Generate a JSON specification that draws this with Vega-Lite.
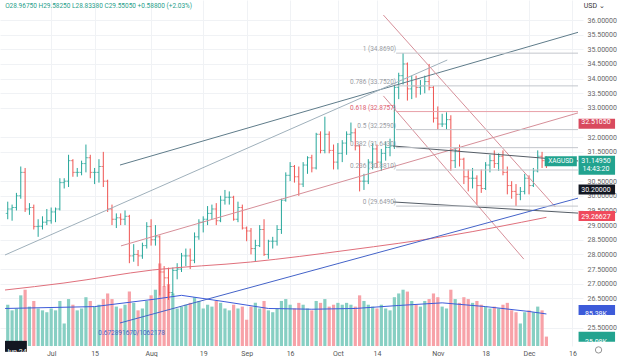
{
"$schema":"https://vega.github.io/schema/vega-lite/v6.json",
"width":583,"height":346,
"autosize":{"type":"none"},
"padding":{"left":0,"top":0,"right":37,"bottom":11},
"background":"#ffffff",
"config":{"view":{"stroke":null},"font":"Roboto","text":{"font":"Roboto"}},
"datasets":{
"bars":[
{"i":-10,"o":29.40,"h":29.80,"l":29.20,"c":29.55,"v":110},
{"i":-9,"o":29.55,"h":29.70,"l":29.15,"c":29.60,"v":95},
{"i":-8,"o":29.60,"h":30.10,"l":29.50,"c":30.00,"v":100},
{"i":-7,"o":30.00,"h":31.00,"l":29.90,"c":30.80,"v":135},
{"i":-6,"o":30.80,"h":30.95,"l":29.45,"c":29.55,"v":150},
{"i":-5,"o":29.55,"h":29.75,"l":29.35,"c":29.60,"v":105},
{"i":-4,"o":29.60,"h":29.70,"l":28.85,"c":28.95,"v":120},
{"i":-3,"o":28.95,"h":29.20,"l":28.60,"c":28.96,"v":100},
{"i":-2,"o":28.96,"h":29.30,"l":28.85,"c":29.10,"v":95},
{"i":-1,"o":29.10,"h":29.55,"l":29.00,"c":29.15,"v":90},
{"i":0,"o":29.15,"h":29.60,"l":29.05,"c":29.45,"v":100},
{"i":1,"o":29.45,"h":29.60,"l":29.10,"c":29.55,"v":95},
{"i":2,"o":29.55,"h":30.60,"l":29.50,"c":30.45,"v":120},
{"i":3,"o":30.45,"h":30.60,"l":30.25,"c":30.50,"v":60},
{"i":4,"o":30.50,"h":31.40,"l":30.30,"c":31.20,"v":125},
{"i":5,"o":31.20,"h":31.25,"l":30.65,"c":30.80,"v":110},
{"i":6,"o":30.80,"h":30.95,"l":30.65,"c":30.80,"v":95},
{"i":7,"o":30.80,"h":31.20,"l":30.70,"c":31.10,"v":100},
{"i":8,"o":31.10,"h":31.75,"l":30.80,"c":31.30,"v":130},
{"i":9,"o":31.30,"h":31.40,"l":30.60,"c":30.80,"v":120},
{"i":10,"o":30.80,"h":30.95,"l":30.40,"c":30.80,"v":105},
{"i":11,"o":30.80,"h":31.25,"l":30.45,"c":31.00,"v":110},
{"i":12,"o":31.00,"h":31.50,"l":30.30,"c":30.50,"v":125},
{"i":13,"o":30.50,"h":30.55,"l":29.45,"c":29.55,"v":140},
{"i":14,"o":29.55,"h":29.70,"l":29.00,"c":29.20,"v":125},
{"i":15,"o":29.20,"h":29.40,"l":28.90,"c":29.25,"v":105},
{"i":16,"o":29.25,"h":29.40,"l":29.00,"c":29.20,"v":100},
{"i":17,"o":29.20,"h":29.50,"l":29.00,"c":29.30,"v":110},
{"i":18,"o":29.30,"h":29.35,"l":27.70,"c":27.95,"v":145},
{"i":19,"o":27.95,"h":28.35,"l":27.75,"c":28.00,"v":115},
{"i":20,"o":28.00,"h":28.15,"l":27.60,"c":27.95,"v":95},
{"i":21,"o":27.95,"h":28.40,"l":27.85,"c":28.30,"v":100},
{"i":22,"o":28.30,"h":29.10,"l":28.20,"c":28.95,"v":120},
{"i":23,"o":28.95,"h":29.20,"l":28.30,"c":28.50,"v":135},
{"i":24,"o":28.50,"h":29.00,"l":28.30,"c":28.60,"v":150},
{"i":25,"o":28.60,"h":28.65,"l":26.60,"c":27.40,"v":220},
{"i":26,"o":27.40,"h":27.60,"l":26.90,"c":27.20,"v":160},
{"i":27,"o":27.20,"h":27.55,"l":26.45,"c":26.70,"v":165},
{"i":28,"o":26.70,"h":27.55,"l":26.60,"c":27.45,"v":140},
{"i":29,"o":27.45,"h":27.70,"l":27.15,"c":27.50,"v":100},
{"i":30,"o":27.50,"h":28.05,"l":27.40,"c":27.95,"v":105},
{"i":31,"o":27.95,"h":28.20,"l":27.60,"c":27.95,"v":110},
{"i":32,"o":27.95,"h":28.20,"l":27.50,"c":27.80,"v":115},
{"i":33,"o":27.80,"h":28.75,"l":27.70,"c":28.60,"v":130},
{"i":34,"o":28.60,"h":29.20,"l":28.50,"c":29.10,"v":120},
{"i":35,"o":29.10,"h":29.30,"l":28.75,"c":29.20,"v":100},
{"i":36,"o":29.20,"h":29.65,"l":29.00,"c":29.40,"v":110},
{"i":37,"o":29.40,"h":29.70,"l":29.20,"c":29.55,"v":105},
{"i":38,"o":29.55,"h":29.75,"l":29.00,"c":29.15,"v":120},
{"i":39,"o":29.15,"h":30.00,"l":29.10,"c":29.85,"v":115},
{"i":40,"o":29.85,"h":30.20,"l":29.70,"c":29.95,"v":100},
{"i":41,"o":29.95,"h":30.15,"l":29.70,"c":29.95,"v":95},
{"i":42,"o":29.95,"h":30.00,"l":29.15,"c":29.20,"v":110},
{"i":43,"o":29.20,"h":29.80,"l":29.10,"c":29.60,"v":100},
{"i":44,"o":29.60,"h":29.70,"l":28.85,"c":28.90,"v":105},
{"i":45,"o":28.90,"h":28.95,"l":28.45,"c":28.80,"v":70},
{"i":46,"o":28.80,"h":28.90,"l":28.00,"c":28.20,"v":105},
{"i":47,"o":28.20,"h":28.50,"l":27.75,"c":28.30,"v":115},
{"i":48,"o":28.30,"h":29.00,"l":28.25,"c":28.85,"v":100},
{"i":49,"o":28.85,"h":29.20,"l":27.95,"c":28.00,"v":120},
{"i":50,"o":28.00,"h":28.50,"l":27.85,"c":28.45,"v":95},
{"i":51,"o":28.45,"h":28.60,"l":28.20,"c":28.45,"v":90},
{"i":52,"o":28.45,"h":29.00,"l":28.30,"c":28.85,"v":100},
{"i":53,"o":28.85,"h":29.90,"l":28.70,"c":29.85,"v":120},
{"i":54,"o":29.85,"h":30.80,"l":29.80,"c":30.70,"v":125},
{"i":55,"o":30.70,"h":31.15,"l":30.50,"c":31.00,"v":110},
{"i":56,"o":31.00,"h":31.05,"l":30.45,"c":30.65,"v":100},
{"i":57,"o":30.65,"h":31.00,"l":30.00,"c":30.40,"v":115},
{"i":58,"o":30.40,"h":31.15,"l":30.30,"c":31.05,"v":110},
{"i":59,"o":31.05,"h":31.35,"l":30.75,"c":31.30,"v":100},
{"i":60,"o":31.30,"h":31.40,"l":30.80,"c":30.95,"v":95},
{"i":61,"o":30.95,"h":32.15,"l":30.90,"c":32.10,"v":120},
{"i":62,"o":32.10,"h":32.20,"l":31.45,"c":31.55,"v":115},
{"i":63,"o":31.55,"h":32.70,"l":31.45,"c":32.10,"v":125},
{"i":64,"o":32.10,"h":32.20,"l":31.45,"c":31.55,"v":105},
{"i":65,"o":31.55,"h":31.75,"l":30.90,"c":31.15,"v":110},
{"i":66,"o":31.15,"h":31.80,"l":30.90,"c":31.45,"v":115},
{"i":67,"o":31.45,"h":31.90,"l":31.15,"c":31.80,"v":110},
{"i":68,"o":31.80,"h":32.20,"l":31.40,"c":32.10,"v":115},
{"i":69,"o":32.10,"h":32.50,"l":31.85,"c":32.15,"v":110},
{"i":70,"o":32.15,"h":32.30,"l":31.55,"c":31.70,"v":105},
{"i":71,"o":31.70,"h":31.75,"l":30.15,"c":30.50,"v":135},
{"i":72,"o":30.50,"h":30.75,"l":30.20,"c":30.50,"v":120},
{"i":73,"o":30.50,"h":31.25,"l":30.40,"c":31.15,"v":110},
{"i":74,"o":31.15,"h":31.80,"l":30.90,"c":31.60,"v":105},
{"i":75,"o":31.60,"h":31.75,"l":30.95,"c":31.15,"v":100},
{"i":76,"o":31.15,"h":31.60,"l":30.85,"c":31.45,"v":110},
{"i":77,"o":31.45,"h":31.85,"l":31.20,"c":31.65,"v":100},
{"i":78,"o":31.65,"h":31.95,"l":31.35,"c":31.70,"v":95},
{"i":79,"o":31.70,"h":33.75,"l":31.60,"c":33.70,"v":130},
{"i":80,"o":33.70,"h":34.20,"l":33.30,"c":34.10,"v":140},
{"i":81,"o":34.10,"h":34.87,"l":33.80,"c":34.50,"v":150},
{"i":82,"o":34.50,"h":34.55,"l":33.25,"c":33.65,"v":145},
{"i":83,"o":33.65,"h":34.10,"l":33.30,"c":33.75,"v":120},
{"i":84,"o":33.75,"h":34.10,"l":33.35,"c":33.70,"v":110},
{"i":85,"o":33.70,"h":33.95,"l":33.45,"c":33.75,"v":105},
{"i":86,"o":33.75,"h":34.10,"l":33.50,"c":33.90,"v":120},
{"i":87,"o":33.90,"h":34.50,"l":33.60,"c":33.70,"v":125},
{"i":88,"o":33.70,"h":33.75,"l":32.50,"c":32.65,"v":140},
{"i":89,"o":32.65,"h":33.05,"l":32.25,"c":32.45,"v":130},
{"i":90,"o":32.45,"h":32.80,"l":32.35,"c":32.45,"v":105},
{"i":91,"o":32.45,"h":32.85,"l":32.25,"c":32.60,"v":100},
{"i":92,"o":32.60,"h":32.75,"l":30.85,"c":31.20,"v":150},
{"i":93,"o":31.20,"h":31.65,"l":30.95,"c":31.55,"v":125},
{"i":94,"o":31.55,"h":31.75,"l":31.00,"c":31.25,"v":115},
{"i":95,"o":31.25,"h":31.30,"l":30.40,"c":30.65,"v":130},
{"i":96,"o":30.65,"h":30.90,"l":30.15,"c":30.60,"v":125},
{"i":97,"o":30.60,"h":30.95,"l":30.25,"c":30.60,"v":115},
{"i":98,"o":30.60,"h":30.70,"l":29.70,"c":30.35,"v":120},
{"i":99,"o":30.35,"h":30.90,"l":30.10,"c":30.25,"v":110},
{"i":100,"o":30.25,"h":31.15,"l":30.20,"c":31.05,"v":105},
{"i":101,"o":31.05,"h":31.40,"l":30.80,"c":31.20,"v":100},
{"i":102,"o":31.20,"h":31.55,"l":30.95,"c":31.10,"v":105},
{"i":103,"o":31.10,"h":31.45,"l":30.85,"c":31.35,"v":100},
{"i":104,"o":31.35,"h":31.55,"l":30.70,"c":30.80,"v":110},
{"i":105,"o":30.80,"h":31.00,"l":30.05,"c":30.35,"v":115},
{"i":106,"o":30.35,"h":30.50,"l":29.90,"c":30.15,"v":95},
{"i":107,"o":30.15,"h":30.40,"l":29.65,"c":30.05,"v":90},
{"i":108,"o":30.05,"h":30.30,"l":29.85,"c":30.15,"v":60},
{"i":109,"o":30.15,"h":30.75,"l":30.05,"c":30.60,"v":90},
{"i":110,"o":30.60,"h":30.70,"l":30.05,"c":30.35,"v":95},
{"i":111,"o":30.35,"h":30.95,"l":30.30,"c":30.85,"v":90},
{"i":112,"o":30.85,"h":31.55,"l":30.80,"c":31.35,"v":105},
{"i":113,"o":31.35,"h":31.50,"l":30.95,"c":31.20,"v":95},
{"i":114,"o":31.20,"h":31.35,"l":30.95,"c":31.1495,"v":25.08}
],
"volma":[
{"i":-10.6,"v":100},{"i":10,"v":105},{"i":24,"v":125},{"i":30,"v":135},{"i":40,"v":118},{"i":50,"v":100},{"i":60,"v":98},{"i":70,"v":100},{"i":80,"v":108},{"i":90,"v":115},{"i":100,"v":105},{"i":110,"v":92},{"i":114,"v":85.38}
],
"pricema":[
{"i":-10.63,"p":26.785},{"i":2.94,"p":27.024},{"i":23.3,"p":27.467},{"i":45.9,"p":27.74},{"i":68.55,"p":28.15},{"i":91.2,"p":28.63},{"i":114,"p":29.266}
],
"trend":[
{"id":"A","i":15.84,"p":31.05},{"id":"A","i":121.27,"p":35.58},
{"id":"B","i":-10.63,"p":27.98},{"id":"B","i":91.18,"p":34.635},
{"id":"C","i":16.06,"p":28.29},{"id":"C","i":121.27,"p":32.83},
{"id":"D1","i":76.47,"p":36.17},{"id":"D1","i":116.06,"p":29.62},
{"id":"D2","i":76.47,"p":33.41},{"id":"D2","i":108.8,"p":27.84},
{"id":"E","i":78.7,"p":31.70},{"id":"E","i":121.27,"p":31.19},
{"id":"F","i":78.7,"p":29.79},{"id":"F","i":121.27,"p":29.41},
{"id":"G","i":15.84,"p":25.66},{"id":"G","i":121.27,"p":29.92}
],
"fib":[
{"lv":"1","p":34.869,"t":"1 (34.8690)"},
{"lv":"0.786","p":33.752,"t":"0.786 (33.7520)"},
{"lv":"0.618","p":32.875,"t":"0.618 (32.8757)"},
{"lv":"0.5","p":32.259,"t":"0.5 (32.2590)"},
{"lv":"0.382","p":31.643,"t":"0.382 (31.6430)"},
{"lv":"0.236","p":30.881,"t":"0.236 (30.8810)"},
{"lv":"0","p":29.649,"t":"0 (29.6490)"}
],
"plabels":[
{"p":32.5105,"t":"32.51050","k":"red"},
{"p":30.2,"t":"30.20000","k":"black"},
{"p":29.26627,"t":"29.26627","k":"ma"}
]
},
"layer":[
 {"data":{"name":"bars"},
  "mark":{"type":"bar","width":3.2},
  "encoding":{
   "x":{"field":"i","type":"quantitative","scale":{"domain":[-10.63,121.27],"nice":false,"zero":false},
        "axis":{"title":null,"orient":"bottom","values":[0,10,23,35,45,55,66,75,89,100,110,120],
        "labelExpr":"datum.value==0?'Jul':datum.value==10?'15':datum.value==23?'Aug':datum.value==35?'19':datum.value==45?'Sep':datum.value==55?'16':datum.value==66?'Oct':datum.value==75?'14':datum.value==89?'Nov':datum.value==100?'18':datum.value==110?'Dec':datum.value==120?'16':''",
        "labelFontSize":7,"labelColor":"#555","ticks":false,"domain":false,"grid":true,"gridColor":"#f0f2f5","labelPadding":3,"labelFlush":false}},
   "y":{"field":"v","type":"quantitative","scale":{"domain":[0,922],"nice":false,"zero":true},"axis":null},
   "color":{"condition":{"test":"datum.c>=datum.o","value":"#87cfc3"},"value":"#f7a2a8"}
  }},
 {"data":{"name":"volma"},
  "mark":{"type":"line","color":"#3d5bd9","strokeWidth":1},
  "encoding":{"x":{"field":"i","type":"quantitative"},"y":{"field":"v","type":"quantitative","scale":{"domain":[0,922],"nice":false,"zero":true},"axis":null}}},
 {"data":{"values":[{"v":85.38,"t":"85.38K"}]},
  "mark":{"type":"bar","color":"#3d5bd9","size":10,"clip":false},
  "encoding":{"x":{"datum":121.4},"x2":{"datum":129.8},"y":{"field":"v","type":"quantitative","scale":{"domain":[0,922],"nice":false,"zero":true},"axis":null}}},
 {"data":{"values":[{"v":85.38,"t":"85.38K"}]},
  "mark":{"type":"text","color":"#ffffff","fontSize":7,"clip":false},
  "encoding":{"x":{"datum":125.4},"y":{"field":"v","type":"quantitative","scale":{"domain":[0,922],"nice":false,"zero":true},"axis":null},"text":{"field":"t"}}},
 {"data":{"values":[{"v":25.08,"t":"25.08K"}]},
  "mark":{"type":"bar","color":"#22a38f","size":10,"clip":false,"yOffset":5},
  "encoding":{"x":{"datum":121.4},"x2":{"datum":129.8},"y":{"field":"v","type":"quantitative","scale":{"domain":[0,922],"nice":false,"zero":true},"axis":null}}},
 {"data":{"values":[{"v":25.08,"t":"25.08K"}]},
  "mark":{"type":"text","color":"#ffffff","fontSize":7,"clip":false,"yOffset":5},
  "encoding":{"x":{"datum":125.4},"y":{"field":"v","type":"quantitative","scale":{"domain":[0,922],"nice":false,"zero":true},"axis":null},"text":{"field":"t"}}},
 {"data":{"name":"bars"},
  "mark":{"type":"rule","strokeWidth":1},
  "encoding":{
   "x":{"field":"i","type":"quantitative"},
   "y":{"field":"l","type":"quantitative","scale":{"domain":[24.874,36.683],"nice":false,"zero":false},
        "axis":{"title":null,"orient":"right","values":[25.5,26.5,27,27.5,28,28.5,29,29.5,30,30.5,31.5,32,33,33.5,34,34.5,35,35.5,36],"format":".5f","labelFontSize":7,"labelColor":"#666","ticks":false,"domain":false,"grid":true,"gridColor":"#f0f2f5","labelPadding":4,"labelOverlap":false}},
   "y2":{"field":"h"},
   "color":{"condition":{"test":"datum.c>=datum.o","value":"#26a69a"},"value":"#ef5350"}
  }},
 {"data":{"name":"bars"},
  "mark":{"type":"tick","orient":"horizontal","size":2,"thickness":1,"xOffset":-1},
  "encoding":{"x":{"field":"i","type":"quantitative"},"y":{"field":"o","type":"quantitative","scale":{"domain":[24.874,36.683],"nice":false,"zero":false},"axis":null},
   "color":{"condition":{"test":"datum.c>=datum.o","value":"#26a69a"},"value":"#ef5350"}}},
 {"data":{"name":"bars"},
  "mark":{"type":"tick","orient":"horizontal","size":2,"thickness":1,"xOffset":1},
  "encoding":{"x":{"field":"i","type":"quantitative"},"y":{"field":"c","type":"quantitative","scale":{"domain":[24.874,36.683],"nice":false,"zero":false},"axis":null},
   "color":{"condition":{"test":"datum.c>=datum.o","value":"#26a69a"},"value":"#ef5350"}}},
 {"mark":{"type":"rule","color":"#c8ccd2","strokeWidth":1},"encoding":{"y":{"datum":31.1495,"type":"quantitative","scale":{"domain":[24.874,36.683],"nice":false,"zero":false},"axis":null}}},
 {"mark":{"type":"rule","color":"#a8455a","strokeWidth":2},"encoding":{"y":{"datum":32.5105,"type":"quantitative","scale":{"domain":[24.874,36.683],"nice":false,"zero":false},"axis":null}}},
 {"mark":{"type":"rule","color":"#222222","strokeWidth":1.5},"encoding":{"y":{"datum":30.2,"type":"quantitative","scale":{"domain":[24.874,36.683],"nice":false,"zero":false},"axis":null}}},
 {"data":{"name":"pricema"},
  "mark":{"type":"line","color":"#e0707c","strokeWidth":1,"interpolate":"monotone"},
  "encoding":{"x":{"field":"i","type":"quantitative"},"y":{"field":"p","type":"quantitative","scale":{"domain":[24.874,36.683],"nice":false,"zero":false},"axis":null}}},
 {"data":{"name":"trend"},
  "mark":{"type":"line","strokeWidth":1},
  "encoding":{"x":{"field":"i","type":"quantitative"},"y":{"field":"p","type":"quantitative","scale":{"domain":[24.874,36.683],"nice":false,"zero":false},"axis":null},"detail":{"field":"id"},
   "color":{"field":"id","type":"nominal","legend":null,"scale":{"domain":["A","B","C","D1","D2","E","F","G"],"range":["#5f7c8a","#9fb0bb","#d68f99","#d68f99","#d68f99","#555d66","#555d66","#4463c8"]}}}},
 {"data":{"name":"fib"},
  "mark":{"type":"rule","strokeWidth":1},
  "encoding":{"x":{"datum":79.4},"x2":{"datum":121.27},"y":{"field":"p","type":"quantitative","scale":{"domain":[24.874,36.683],"nice":false,"zero":false},"axis":null},
   "color":{"condition":{"test":"datum.lv=='0.618'","value":"#e8a0a8"},"value":"#c3c6cc"}}},
 {"data":{"name":"fib"},
  "mark":{"type":"text","align":"right","baseline":"bottom","fontSize":6.5,"dy":-1},
  "encoding":{"x":{"datum":79.4},"y":{"field":"p","type":"quantitative","scale":{"domain":[24.874,36.683],"nice":false,"zero":false},"axis":null},"text":{"field":"t"},
   "color":{"condition":{"test":"datum.lv=='0.618'","value":"#e06070"},"value":"#999ca3"}}},
 {"data":{"values":[{"p":25.32,"t":"0.672891670/1062178"}]},
  "mark":{"type":"text","align":"left","fontSize":6.5,"color":"#4463c8"},
  "encoding":{"x":{"datum":10.86},"y":{"field":"p","type":"quantitative","scale":{"domain":[24.874,36.683],"nice":false,"zero":false},"axis":null},"text":{"field":"t"}}},
 {"data":{"name":"plabels"},
  "mark":{"type":"bar","size":10,"clip":false},
  "encoding":{"x":{"datum":121.4},"x2":{"datum":129.8},"y":{"field":"p","type":"quantitative","scale":{"domain":[24.874,36.683],"nice":false,"zero":false},"axis":null},
   "color":{"field":"k","type":"nominal","legend":null,"scale":{"domain":["red","black","ma"],"range":["#d94a5e","#131722","#ef4a5c"]}}}},
 {"data":{"name":"plabels"},
  "mark":{"type":"text","color":"#ffffff","fontSize":7,"clip":false},
  "encoding":{"x":{"datum":125.4},"y":{"field":"p","type":"quantitative","scale":{"domain":[24.874,36.683],"nice":false,"zero":false},"axis":null},"text":{"field":"t"}}},
 {"data":{"values":[{"p":31.05}]},
  "mark":{"type":"bar","size":19,"color":"#22a38f","clip":false},
  "encoding":{"x":{"datum":121.4},"x2":{"datum":129.8},"y":{"field":"p","type":"quantitative","scale":{"domain":[24.874,36.683],"nice":false,"zero":false},"axis":null}}},
 {"data":{"values":[{"p":31.19,"t":"31.14950"},{"p":30.92,"t":"14:43:20"}]},
  "mark":{"type":"text","color":"#ffffff","fontSize":7,"clip":false},
  "encoding":{"x":{"datum":125.4},"y":{"field":"p","type":"quantitative","scale":{"domain":[24.874,36.683],"nice":false,"zero":false},"axis":null},"text":{"field":"t"}}},
 {"data":{"values":[{"p":31.19,"t":"XAGUSD"}]},
  "mark":{"type":"bar","size":10,"color":"#22a38f","clip":false},
  "encoding":{"x":{"datum":113.6},"x2":{"datum":121.0},"y":{"field":"p","type":"quantitative","scale":{"domain":[24.874,36.683],"nice":false,"zero":false},"axis":null}}},
 {"data":{"values":[{"p":31.19,"t":"XAGUSD"}]},
  "mark":{"type":"text","color":"#ffffff","fontSize":6.5,"clip":false},
  "encoding":{"x":{"datum":117.3},"y":{"field":"p","type":"quantitative","scale":{"domain":[24.874,36.683],"nice":false,"zero":false},"axis":null},"text":{"field":"t"}}},
 {"data":{"values":[{"p":24.686,"t":"Jun 24"}]},
  "mark":{"type":"bar","size":11,"color":"#131722","clip":false},
  "encoding":{"x":{"datum":-10.63},"x2":{"datum":-5.6},"y":{"field":"p","type":"quantitative","scale":{"domain":[24.874,36.683],"nice":false,"zero":false},"axis":null}}},
 {"data":{"values":[{"p":24.686,"t":"Jun 24"}]},
  "mark":{"type":"text","color":"#ffffff","fontSize":7,"clip":false},
  "encoding":{"x":{"datum":-8.1},"y":{"field":"p","type":"quantitative","scale":{"domain":[24.874,36.683],"nice":false,"zero":false},"axis":null},"text":{"field":"t"}}},
 {"data":{"values":[{"p":36.48,"t":"O28.96750 H29.58250 L28.83380 C29.55050 +0.58800 (+2.03%)"}]},
  "mark":{"type":"text","align":"left","color":"#1f9e8a","fontSize":6.5,"clip":false},
  "encoding":{"x":{"datum":-10.6},"y":{"field":"p","type":"quantitative","scale":{"domain":[24.874,36.683],"nice":false,"zero":false},"axis":null},"text":{"field":"t"}}},
 {"data":{"values":[{"p":36.47,"t":"USD  ⌄"}]},
  "mark":{"type":"text","align":"left","color":"#333333","fontSize":7,"clip":false},
  "encoding":{"x":{"datum":122.6},"y":{"field":"p","type":"quantitative","scale":{"domain":[24.874,36.683],"nice":false,"zero":false},"axis":null},"text":{"field":"t"}}},
 {"data":{"values":[{"p":24.74}]},
  "mark":{"type":"point","shape":"circle","size":40,"color":"#666666","strokeWidth":1,"clip":false},
  "encoding":{"x":{"datum":126.0},"y":{"field":"p","type":"quantitative","scale":{"domain":[24.874,36.683],"nice":false,"zero":false},"axis":null}}}
],
"resolve":{"scale":{"y":"independent","color":"independent"}}
}
